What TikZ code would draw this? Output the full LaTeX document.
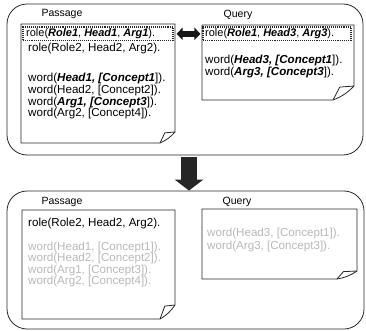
\documentclass[tikz,border=0pt]{standalone}
\usepackage{fontspec}
\setmainfont{Liberation Sans}
\usetikzlibrary{arrows.meta,calc}
\newcommand{\bi}[1]{{\bfseries\itshape #1}}
\newcommand{\paperpage}[6]{%
  \draw[frame] (#1,#2) -- (#3,#2) -- (#3,{#4-#6}) to[bend left=12] ({#3-#5},#4) -- (#1,#4) -- cycle;
  \draw[frame] ({#3-#5},#4) .. controls ({#3-0.85*#5},{#4-0.5*#6}) .. ({#3-0.68*#5},{#4-0.92*#6}) -- (#3,{#4-#6});
}
\tikzset{
  frame/.style={draw=black!85, line width=0.8pt, line join=round},
  outer/.style={draw=black!85, line width=0.8pt, rounded corners=20pt, inner sep=0pt},
  dashbox/.style={draw=black!85, densely dotted, line width=1.1pt, inner sep=0pt},
  txt/.style={anchor=west, inner sep=0pt, font=\fontsize{11.6}{12}\selectfont},
  rtxt/.style={anchor=west, inner sep=0pt, font=\fontsize{11}{12}\selectfont},
  faded/.style={txt, text=black!28},
  lbl/.style={inner sep=0pt, font=\fontsize{10.5}{12}\selectfont},
  dblarrow/.style={draw=black!90, line width=5.5pt,
    {Triangle[length=6pt 0 0, width=12pt 0 0]}-{Triangle[length=6pt 0 0, width=12pt 0 0]}},
  downarr/.style={draw=black!85, line width=16pt,
    -{Triangle[length=11pt 0 0, width=28pt 0 0]}}
}
\begin{document}
\begin{tikzpicture}[x=1pt, y=-1pt]
\useasboundingbox (0,0) rectangle (366,331);
% outer boxes
\node[outer, minimum width=356pt, minimum height=151pt] (topbox) at (185,79.5) {};
\node[outer, minimum width=357pt, minimum height=138pt] (botbox) at (185.5,260) {};

% ---------- top ----------
\node[lbl] (pl1) at (62,14) {Passage};
\node[lbl] (ql1) at (238,15) {Query};
\paperpage{21}{24}{175}{143}{15}{11}
\paperpage{202}{25}{354}{100}{21}{14}

\node[dashbox, minimum width=150pt, minimum height=13.5pt] (pd) at (98,33.8) {};
\node[dashbox, minimum width=148pt, minimum height=13.5pt] (qd) at (277,33.8) {};
\draw[dblarrow, shorten <=3pt, shorten >=2pt] (pd.east) -- (qd.west);

\node[rtxt] (pr1) at (26,33.5) {role(\bi{Role1}, \bi{Head1}, \bi{Arg1}).};
\node[txt] (pr2) at (28,49) {role(Role2, Head2, Arg2).};
\node[txt] (pw1) at (28,79) {word(\bi{Head1, [Concept1}]).};
\node[txt] (pw2) at (28,90.6) {word(Head2, [Concept2]).};
\node[txt] (pw3) at (28,102.2) {word(\bi{Arg1, [Concept3}]).};
\node[txt] (pw4) at (28,113.8) {word(Arg2, [Concept4]).};

\node[rtxt] (qr1) at (205,33.8) {role(\bi{Role1}, \bi{Head3}, \bi{Arg3}).};
\node[txt] (qw1) at (205,61) {word(\bi{Head3, [Concept1}]).};
\node[txt] (qw2) at (205,72.6) {word(\bi{Arg3, [Concept3}]).};

% ---------- down arrow ----------
\draw[downarr, shorten <=1.5pt] ($(topbox.south)+(4,0)$) -- ($(botbox.north)+(3.5,0)$);

% ---------- bottom ----------
\node[lbl] (pl2) at (62,202) {Passage};
\node[lbl] (ql2) at (237,202) {Query};
\paperpage{22}{210}{175}{319}{15}{14}
\paperpage{202}{209}{357}{279}{20}{8}

\node[txt] (br1) at (28,223) {role(Role2, Head2, Arg2).};
\node[faded] (bw1) at (28,247) {word(Head1, [Concept1]).};
\node[faded] (bw2) at (28,258.6) {word(Head2, [Concept2]).};
\node[faded] (bw3) at (28,270.2) {word(Arg1, [Concept3]).};
\node[faded] (bw4) at (28,281.8) {word(Arg2, [Concept4]).};

\node[faded] (bq1) at (207,233) {word(Head3, [Concept1]).};
\node[faded] (bq2) at (207,246) {word(Arg3, [Concept3]).};
\end{tikzpicture}
\end{document}
